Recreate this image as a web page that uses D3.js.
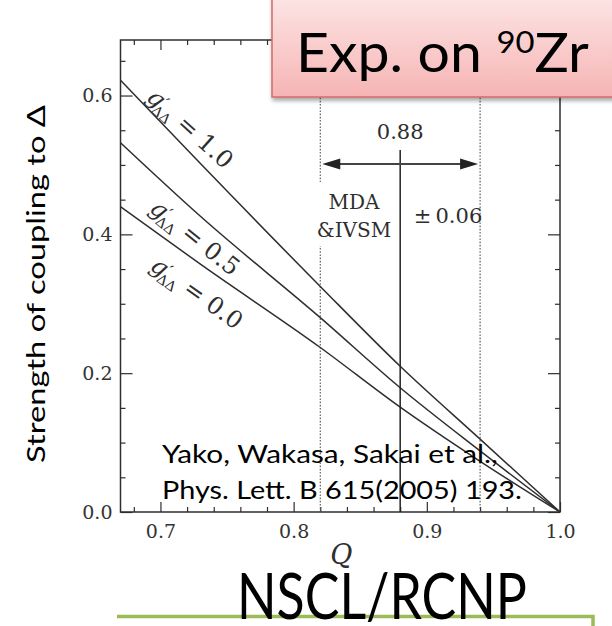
<!DOCTYPE html>
<html>
<head>
<meta charset="utf-8">
<script src="https://cdn.jsdelivr.net/npm/d3@7"></script>
<style>
  body { margin: 0; background: #fff; }
  svg { display: block; }
</style>
</head>
<body>
<svg id="chart" width="612" height="626"></svg>
<script>
// Quenching factor Q versus coupling strength to the Delta, for three g'ΔΔ values
const qTicks = [0.7, 0.8, 0.9, 1.0];
const strengthTicks = [0.0, 0.2, 0.4, 0.6];
const qSamples = [0.67, 0.73, 0.82, 0.88, 0.94, 1.0];
const gPrimeValues = ["1.0", "0.5", "0.0"];
const strengthG10 = [0.622, 0.502, 0.325, 0.210, 0.105, 0.0];
const strengthG05 = [0.532, 0.426, 0.280, 0.179, 0.088, 0.0];
const strengthG00 = [0.440, 0.357, 0.237, 0.151, 0.073, 0.0];
const qCentral = 0.88;   // MDA & IVSM result
const qError = 0.06;

const svg = d3.select("#chart");
const W = 612, H = 626;
svg.append("rect").attr("width", W).attr("height", H).attr("fill", "#fff");

const m = { left: 120.5, right: 560, top: 40, bottom: 512 };
const x = d3.scaleLinear().domain([0.67, 1.0]).range([m.left, m.right]);
const y = d3.scaleLinear().domain([0, 0.68]).range([m.bottom, m.top]);

const serif = "'DejaVu Serif', 'Liberation Serif', serif";
const sans = "Lato, 'Open Sans', 'Liberation Sans', sans-serif";
const ink = "#2e2e2e";

const defs = svg.append("defs");
const grad = defs.append("linearGradient").attr("id", "boxFill")
  .attr("x1", 0).attr("y1", 0).attr("x2", 0).attr("y2", 1);
grad.append("stop").attr("offset", "0%").attr("stop-color", "#fde6e6");
grad.append("stop").attr("offset", "100%").attr("stop-color", "#f6b4b4");
const shadow = defs.append("filter").attr("id", "shadow")
  .attr("x", "-10%").attr("y", "-10%").attr("width", "130%").attr("height", "140%");
shadow.append("feDropShadow").attr("dx", 1).attr("dy", 3).attr("stdDeviation", 2)
  .attr("flood-color", "#000").attr("flood-opacity", 0.35);

// ---- axes with inward ticks on all four sides ----
const xMinor = d3.range(0.68, 1.0001, 0.02).filter(v => !qTicks.some(t => Math.abs(t - v) < 1e-6));
const yMinor = d3.range(0.05, 0.68, 0.05).filter(v => !strengthTicks.some(t => Math.abs(t - v) < 1e-6));
const fmt = d3.format(".1f");

function styleAxis(g) {
  g.select(".domain").remove();
  g.selectAll(".tick line").attr("stroke", ink).attr("stroke-width", 1.2);
  g.selectAll(".tick text").attr("fill", "#333").attr("font-family", serif).attr("font-size", 19);
}

svg.append("g").attr("transform", `translate(0,${m.bottom})`)
  .call(d3.axisBottom(x).tickValues(qTicks).tickFormat(fmt).tickSize(-10).tickPadding(13)).call(styleAxis);
svg.append("g").attr("transform", `translate(0,${m.bottom})`)
  .call(d3.axisBottom(x).tickValues(xMinor).tickFormat("").tickSize(-5)).call(styleAxis);
svg.append("g").attr("transform", `translate(0,${m.top})`)
  .call(d3.axisTop(x).tickValues(qTicks).tickFormat("").tickSize(-10)).call(styleAxis);
svg.append("g").attr("transform", `translate(0,${m.top})`)
  .call(d3.axisTop(x).tickValues(xMinor).tickFormat("").tickSize(-5)).call(styleAxis);
svg.append("g").attr("transform", `translate(${m.left},0)`)
  .call(d3.axisLeft(y).tickValues(strengthTicks).tickFormat(fmt).tickSize(-12).tickPadding(8)).call(styleAxis);
svg.append("g").attr("transform", `translate(${m.left},0)`)
  .call(d3.axisLeft(y).tickValues(yMinor).tickFormat("").tickSize(-5)).call(styleAxis);
svg.append("g").attr("transform", `translate(${m.right},0)`)
  .call(d3.axisRight(y).tickValues(strengthTicks).tickFormat("").tickSize(-12)).call(styleAxis);
svg.append("g").attr("transform", `translate(${m.right},0)`)
  .call(d3.axisRight(y).tickValues(yMinor).tickFormat("").tickSize(-5)).call(styleAxis);

svg.append("rect")
  .attr("x", m.left).attr("y", m.top)
  .attr("width", m.right - m.left).attr("height", m.bottom - m.top)
  .attr("fill", "none").attr("stroke", ink).attr("stroke-width", 1.5);

// ---- error band boundaries (dotted) ----
[qCentral - qError, qCentral + qError].forEach(q => {
  svg.append("line")
    .attr("x1", x(q)).attr("x2", x(q))
    .attr("y1", m.top).attr("y2", m.bottom)
    .attr("stroke", "#555").attr("stroke-width", 1.1)
    .attr("stroke-dasharray", "1.6,1.6");
});

// ---- coupling curves ----
const series = [strengthG10, strengthG05, strengthG00];
const line = d3.line().x(d => x(d[0])).y(d => y(d[1])).curve(d3.curveMonotoneX);
series.forEach(vals => {
  svg.append("path")
    .attr("d", line(qSamples.map((q, i) => [q, vals[i]])))
    .attr("fill", "none").attr("stroke", ink).attr("stroke-width", 1.5);
});

// curve labels g'ΔΔ = value, set along each curve
const labelPlace = [
  { q: 0.7225, s: 0.553, angle: 42 },
  { q: 0.7262, s: 0.396, angle: 38.5 },
  { q: 0.7275, s: 0.316, angle: 35.5 }
];
gPrimeValues.forEach((v, i) => {
  const p = labelPlace[i];
  const t = svg.append("text")
    .attr("transform", `translate(${x(p.q)},${y(p.s)}) rotate(${p.angle})`)
    .attr("text-anchor", "middle").attr("dy", "0.35em")
    .attr("font-family", serif).attr("font-size", 24).attr("fill", ink);
  t.append("tspan").attr("font-style", "italic").text("g");
  t.append("tspan").attr("dy", -4).attr("font-size", 17).text("\u2032");
  t.append("tspan").attr("dx", -7).attr("dy", 10).attr("font-size", 14).text("\u0394\u0394");
  t.append("tspan").attr("dy", -6).text(" = " + v);
});

// ---- central value and ± range arrow ----
svg.append("line")
  .attr("x1", x(qCentral)).attr("x2", x(qCentral))
  .attr("y1", 150).attr("y2", y(0))
  .attr("stroke", "#222").attr("stroke-width", 1.5);

const arrowY = 164;
const xa = x(qCentral - qError) + 2, xb = x(qCentral + qError) - 2;
svg.append("line").attr("x1", xa + 10).attr("x2", xb - 10)
  .attr("y1", arrowY).attr("y2", arrowY)
  .attr("stroke", "#444").attr("stroke-width", 2.2);
svg.append("path")
  .attr("d", `M${xa},${arrowY} l18,-5.5 l0,11 Z M${xb},${arrowY} l-18,-5.5 l0,11 Z`)
  .attr("fill", "#222");

svg.append("text")
  .attr("x", x(qCentral)).attr("y", 139)
  .attr("text-anchor", "middle")
  .attr("font-family", serif).attr("font-size", 21).attr("fill", ink)
  .text(d3.format(".2f")(qCentral));

// opaque backing for the method label, interrupting the dotted line
svg.append("rect")
  .attr("x", 314).attr("y", 182).attr("width", 80).attr("height", 64)
  .attr("fill", "#fff");
svg.append("text")
  .attr("x", 354).attr("y", 209).attr("text-anchor", "middle")
  .attr("font-family", serif).attr("font-size", 20).attr("fill", ink)
  .text("MDA");
svg.append("text")
  .attr("x", 354).attr("y", 237).attr("text-anchor", "middle")
  .attr("font-family", serif).attr("font-size", 20).attr("fill", ink)
  .text("&IVSM");
svg.append("text")
  .attr("x", 448).attr("y", 223).attr("text-anchor", "middle")
  .attr("font-family", serif).attr("font-size", 21).attr("fill", ink)
  .text("\u00B1" + "\u2009" + d3.format(".2f")(qError));

// ---- helper: stretch a text horizontally to a given width ----
function fitWidth(sel, x0, y0, width, extra) {
  const w = sel.node().getComputedTextLength();
  sel.attr("transform", `translate(${x0},${y0}) ${extra || ""} scale(${width / w},1)`);
}

// axis titles
svg.append("text")
  .attr("x", (x(0.8) + x(0.9)) / 2 - 19).attr("y", 564)
  .attr("text-anchor", "middle")
  .attr("font-family", serif).attr("font-style", "italic").attr("font-size", 27).attr("fill", ink)
  .text("Q");

const yTitle = svg.append("text")
  .attr("text-anchor", "middle")
  .attr("font-family", sans).attr("font-size", 25).attr("fill", "#000")
  .text("Strength of coupling to \u0394");
fitWidth(yTitle, 45, 284, 358, "rotate(-90)");

// citation
const cite1 = svg.append("text").attr("font-family", sans).attr("font-size", 25).attr("fill", "#000")
  .text("Yako, Wakasa, Sakai et al.,");
fitWidth(cite1, 162, 463, 336);
const cite2 = svg.append("text").attr("font-family", sans).attr("font-size", 25).attr("fill", "#000")
  .text("Phys. Lett. B 615(2005) 193.");
fitWidth(cite2, 162, 499, 360);

// ---- experiment banner ----
svg.append("rect")
  .attr("x", 272).attr("y", -6).attr("width", 360).attr("height", 103)
  .attr("fill", "url(#boxFill)").attr("stroke", "#d46a6a").attr("stroke-width", 1.5)
  .attr("filter", "url(#shadow)");
const banner = svg.append("text").attr("font-family", sans).attr("font-size", 54).attr("fill", "#000");
banner.append("tspan").text("Exp. on ");
banner.append("tspan").attr("font-size", 31).attr("dy", -19).text("90");
banner.append("tspan").attr("dy", 19).text("Zr");
fitWidth(banner, 296, 72, 293);

// ---- lab box: top edge and right side ----
svg.append("path")
  .attr("d", `M117,616.5 H593 V${H + 4}`)
  .attr("fill", "none").attr("stroke", "#9bbb59").attr("stroke-width", 3.5);
const lab = svg.append("text").attr("font-family", sans).attr("font-size", 64).attr("fill", "#000")
  .text("NSCL/RCNP");
fitWidth(lab, 237, 619, 290);
</script>
</body>
</html>
